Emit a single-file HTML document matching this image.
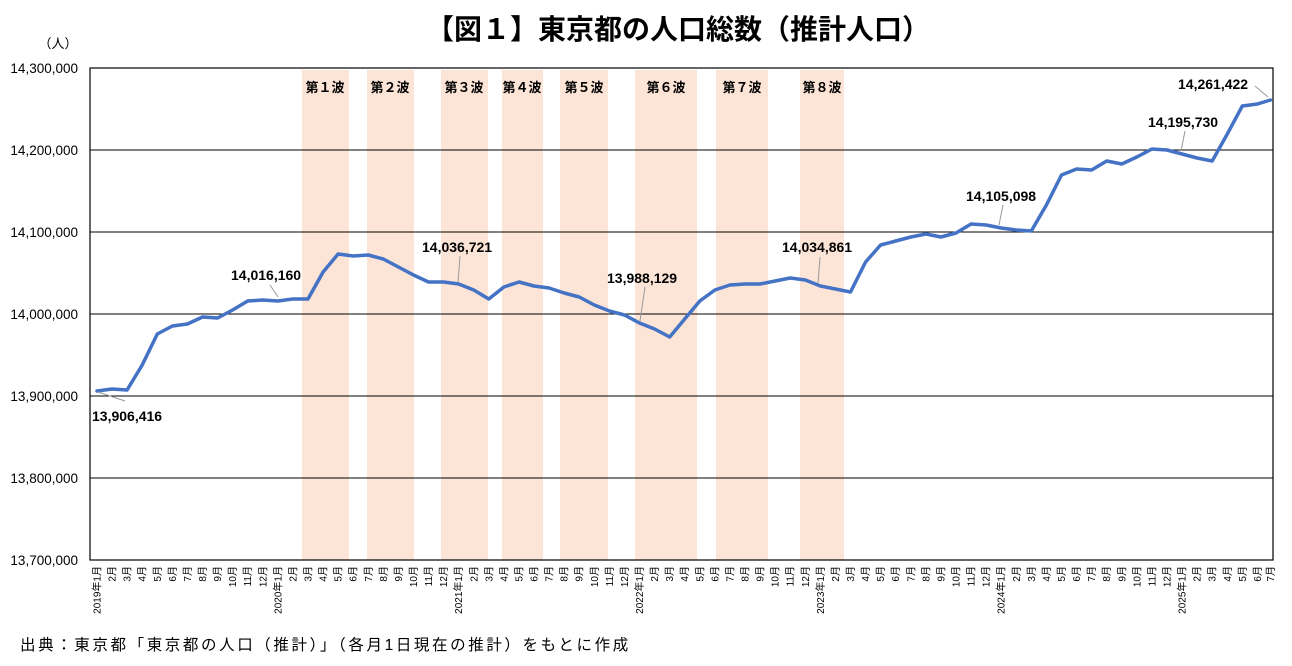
<!DOCTYPE html>
<html><head><meta charset="utf-8"><style>
html,body{margin:0;padding:0;background:#fff;}
svg{display:block;font-family:"Liberation Sans","Noto Sans CJK JP",sans-serif;}
</style></head><body>
<svg width="1292" height="666" viewBox="0 0 1292 666" xmlns="http://www.w3.org/2000/svg">
<rect width="1292" height="666" fill="#fff"/>
<text x="678" y="39" text-anchor="middle" font-size="28" font-weight="bold" fill="#000">【図１】東京都の人口総数（推計人口）</text>
<text x="58" y="48" text-anchor="middle" font-size="13" fill="#000">（人）</text>
<g fill="#fce4d6">
<rect x="302" y="70" width="47" height="490"/>
<rect x="367" y="70" width="47" height="490"/>
<rect x="441" y="70" width="47" height="490"/>
<rect x="502" y="70" width="41" height="490"/>
<rect x="560" y="70" width="48" height="490"/>
<rect x="635" y="70" width="62" height="490"/>
<rect x="716" y="70" width="52" height="490"/>
<rect x="800" y="70" width="44" height="490"/>
</g>
<g font-size="13" font-weight="bold" text-anchor="middle" fill="#000">
<text x="325" y="92">第１波</text><text x="390" y="92">第２波</text><text x="464" y="92">第３波</text>
<text x="522" y="92">第４波</text><text x="584" y="92">第５波</text><text x="666" y="92">第６波</text>
<text x="742" y="92">第７波</text><text x="822" y="92">第８波</text>
</g>
<g stroke="#000" stroke-width="1">
<line x1="90" y1="150" x2="1273" y2="150"/><line x1="90" y1="232" x2="1273" y2="232"/>
<line x1="90" y1="314" x2="1273" y2="314"/><line x1="90" y1="396" x2="1273" y2="396"/>
<line x1="90" y1="478" x2="1273" y2="478"/>
</g>
<rect x="90" y="68" width="1183" height="492" fill="none" stroke="#000" stroke-width="1.2"/>
<g font-size="13.5" text-anchor="end" fill="#000">
<text x="78" y="73">14,300,000</text><text x="78" y="155">14,200,000</text>
<text x="78" y="237">14,100,000</text><text x="78" y="319">14,000,000</text>
<text x="78" y="401">13,900,000</text><text x="78" y="483">13,800,000</text>
<text x="78" y="565">13,700,000</text>
</g>
<g font-size="10" fill="#000" text-anchor="end">
<text transform="translate(100.5,566) rotate(-90)">2019年1月</text>
<text transform="translate(115.6,566) rotate(-90)">2月</text>
<text transform="translate(130.6,566) rotate(-90)">3月</text>
<text transform="translate(145.7,566) rotate(-90)">4月</text>
<text transform="translate(160.8,566) rotate(-90)">5月</text>
<text transform="translate(175.9,566) rotate(-90)">6月</text>
<text transform="translate(190.9,566) rotate(-90)">7月</text>
<text transform="translate(206.0,566) rotate(-90)">8月</text>
<text transform="translate(221.1,566) rotate(-90)">9月</text>
<text transform="translate(236.1,566) rotate(-90)">10月</text>
<text transform="translate(251.2,566) rotate(-90)">11月</text>
<text transform="translate(266.3,566) rotate(-90)">12月</text>
<text transform="translate(281.3,566) rotate(-90)">2020年1月</text>
<text transform="translate(296.4,566) rotate(-90)">2月</text>
<text transform="translate(311.5,566) rotate(-90)">3月</text>
<text transform="translate(326.6,566) rotate(-90)">4月</text>
<text transform="translate(341.6,566) rotate(-90)">5月</text>
<text transform="translate(356.7,566) rotate(-90)">6月</text>
<text transform="translate(371.8,566) rotate(-90)">7月</text>
<text transform="translate(386.8,566) rotate(-90)">8月</text>
<text transform="translate(401.9,566) rotate(-90)">9月</text>
<text transform="translate(417.0,566) rotate(-90)">10月</text>
<text transform="translate(432.0,566) rotate(-90)">11月</text>
<text transform="translate(447.1,566) rotate(-90)">12月</text>
<text transform="translate(462.2,566) rotate(-90)">2021年1月</text>
<text transform="translate(477.3,566) rotate(-90)">2月</text>
<text transform="translate(492.3,566) rotate(-90)">3月</text>
<text transform="translate(507.4,566) rotate(-90)">4月</text>
<text transform="translate(522.5,566) rotate(-90)">5月</text>
<text transform="translate(537.5,566) rotate(-90)">6月</text>
<text transform="translate(552.6,566) rotate(-90)">7月</text>
<text transform="translate(567.7,566) rotate(-90)">8月</text>
<text transform="translate(582.7,566) rotate(-90)">9月</text>
<text transform="translate(597.8,566) rotate(-90)">10月</text>
<text transform="translate(612.9,566) rotate(-90)">11月</text>
<text transform="translate(628.0,566) rotate(-90)">12月</text>
<text transform="translate(643.0,566) rotate(-90)">2022年1月</text>
<text transform="translate(658.1,566) rotate(-90)">2月</text>
<text transform="translate(673.2,566) rotate(-90)">3月</text>
<text transform="translate(688.2,566) rotate(-90)">4月</text>
<text transform="translate(703.3,566) rotate(-90)">5月</text>
<text transform="translate(718.4,566) rotate(-90)">6月</text>
<text transform="translate(733.4,566) rotate(-90)">7月</text>
<text transform="translate(748.5,566) rotate(-90)">8月</text>
<text transform="translate(763.6,566) rotate(-90)">9月</text>
<text transform="translate(778.7,566) rotate(-90)">10月</text>
<text transform="translate(793.7,566) rotate(-90)">11月</text>
<text transform="translate(808.8,566) rotate(-90)">12月</text>
<text transform="translate(823.9,566) rotate(-90)">2023年1月</text>
<text transform="translate(838.9,566) rotate(-90)">2月</text>
<text transform="translate(854.0,566) rotate(-90)">3月</text>
<text transform="translate(869.1,566) rotate(-90)">4月</text>
<text transform="translate(884.1,566) rotate(-90)">5月</text>
<text transform="translate(899.2,566) rotate(-90)">6月</text>
<text transform="translate(914.3,566) rotate(-90)">7月</text>
<text transform="translate(929.4,566) rotate(-90)">8月</text>
<text transform="translate(944.4,566) rotate(-90)">9月</text>
<text transform="translate(959.5,566) rotate(-90)">10月</text>
<text transform="translate(974.6,566) rotate(-90)">11月</text>
<text transform="translate(989.6,566) rotate(-90)">12月</text>
<text transform="translate(1004.7,566) rotate(-90)">2024年1月</text>
<text transform="translate(1019.8,566) rotate(-90)">2月</text>
<text transform="translate(1034.8,566) rotate(-90)">3月</text>
<text transform="translate(1049.9,566) rotate(-90)">4月</text>
<text transform="translate(1065.0,566) rotate(-90)">5月</text>
<text transform="translate(1080.1,566) rotate(-90)">6月</text>
<text transform="translate(1095.1,566) rotate(-90)">7月</text>
<text transform="translate(1110.2,566) rotate(-90)">8月</text>
<text transform="translate(1125.3,566) rotate(-90)">9月</text>
<text transform="translate(1140.3,566) rotate(-90)">10月</text>
<text transform="translate(1155.4,566) rotate(-90)">11月</text>
<text transform="translate(1170.5,566) rotate(-90)">12月</text>
<text transform="translate(1185.5,566) rotate(-90)">2025年1月</text>
<text transform="translate(1200.6,566) rotate(-90)">2月</text>
<text transform="translate(1215.7,566) rotate(-90)">3月</text>
<text transform="translate(1230.8,566) rotate(-90)">4月</text>
<text transform="translate(1245.8,566) rotate(-90)">5月</text>
<text transform="translate(1260.9,566) rotate(-90)">6月</text>
<text transform="translate(1274.0,566) rotate(-90)">7月</text>
</g>
<polyline fill="none" stroke="#4472c4" stroke-width="3.5" stroke-linejoin="round" stroke-linecap="round" points="97.0,391 112.1,389 127.1,390 142.2,365 157.3,334 172.4,326 187.4,324 202.5,317 217.6,318 232.6,310 247.7,301 262.8,300 277.8,301 292.9,299 308.0,299 323.1,272 338.1,254 353.2,256 368.3,255 383.3,259 398.4,267 413.5,275 428.5,282 443.6,282 458.7,284 473.8,290 488.8,299 503.9,287 519.0,282 534.0,286 549.1,288 564.2,293 579.2,297 594.3,305 609.4,311 624.5,315 639.5,323 654.6,329 669.7,337 684.7,319 699.8,301 714.9,290 729.9,285 745.0,284 760.1,284 775.2,281 790.2,278 805.3,280 820.4,286 835.4,289 850.5,292 865.6,262 880.6,245 895.7,241 910.8,237 925.9,234 940.9,237 956.0,233 971.1,224 986.1,225 1001.2,228 1016.3,230 1031.3,231 1046.4,205 1061.5,175 1076.6,169 1091.6,170 1106.7,161 1121.8,164 1136.8,157 1151.9,149 1167.0,150 1182.0,154 1197.1,158 1212.2,161 1227.3,134 1242.3,106 1257.4,104 1270.5,100"/>
<g stroke="#999" stroke-width="1" fill="none">
<line x1="98" y1="392" x2="125" y2="401"/>
<line x1="270" y1="285" x2="278" y2="297"/>
<line x1="460" y1="256" x2="458" y2="282"/>
<line x1="645" y1="287" x2="640" y2="321"/>
<line x1="820" y1="257" x2="818" y2="283"/>
<line x1="1003" y1="205" x2="999" y2="225"/>
<line x1="1185" y1="131" x2="1181" y2="151"/>
<line x1="1255" y1="86" x2="1268" y2="97"/>
</g>
<g font-size="14" font-weight="bold" fill="#000">
<text x="92" y="421">13,906,416</text>
<text x="231" y="280">14,016,160</text>
<text x="422" y="252">14,036,721</text>
<text x="607" y="283">13,988,129</text>
<text x="782" y="252">14,034,861</text>
<text x="966" y="201">14,105,098</text>
<text x="1148" y="127">14,195,730</text>
<text x="1178" y="89">14,261,422</text>
</g>
<text x="20" y="650" font-size="15.5" letter-spacing="2.6" fill="#000">出典：東京都「東京都の人口（推計）」（各月1日現在の推計）をもとに作成</text>
</svg>
</body></html>
